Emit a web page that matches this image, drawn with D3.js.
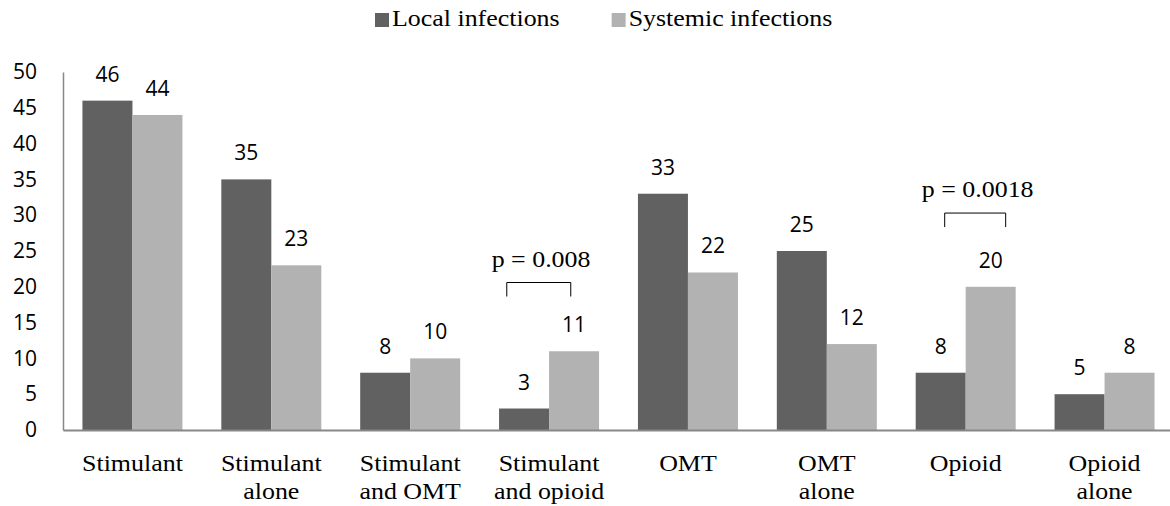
<!DOCTYPE html>
<html>
<head>
<meta charset="utf-8">
<script src="https://cdn.jsdelivr.net/npm/d3@7"></script>
<style>
  body { margin: 0; background: #fff; }
  svg { display: block; }
</style>
</head>
<body>
<div id="chart"></div>
<script>
// data
var categories = ["Stimulant", "Stimulant alone", "Stimulant and OMT", "Stimulant and opioid",
                  "OMT", "OMT alone", "Opioid", "Opioid alone"];
var categoryLines = [["Stimulant"], ["Stimulant", "alone"], ["Stimulant", "and OMT"], ["Stimulant", "and opioid"],
                     ["OMT"], ["OMT", "alone"], ["Opioid"], ["Opioid", "alone"]];
var localValues = [46, 35, 8, 3, 33, 25, 8, 5];
var systemicValues = [44, 23, 10, 11, 22, 12, 20, 8];
var seriesNames = ["Local infections", "Systemic infections"];
var yTicks = [0, 5, 10, 15, 20, 25, 30, 35, 40, 45, 50];

// significance brackets
var pCategories = ["Stimulant and opioid", "Opioid"];
var pLabels = ["p = 0.008", "p = 0.0018"];
var pLevels = [20.6, 30.3];

var width = 1170,
    height = 506;

var colors = ["#616161", "#b2b2b2"];
var axisColor = "#878787";
var sansFont = "'Open Sans', sans-serif";
var serifFont = "'Liberation Serif', 'Times New Roman', serif";
// the serif text in the original looks a bit stretched sideways
var stretch = "scale(1.08,1)";

var svg = d3.select("#chart")
  .append("svg")
    .attr("width", width)
    .attr("height", height);

// x: categories, then the two series inside each category
var x = d3.scaleBand()
  .domain(categories)
  .range([63, 1174])
  .paddingInner(0.28)
  .paddingOuter(0.14);

var xSub = d3.scaleBand()
  .domain(seriesNames)
  .range([0, x.bandwidth()]);

var y = d3.scaleLinear()
  .domain([0, 50])
  .range([430, 72]);

// y axis: only labels and a line, no ticks
var yAxis = svg.append("g")
  .attr("transform", "translate(63,0)")
  .call(d3.axisLeft(y).tickValues(yTicks).tickSize(0).tickPadding(26));
yAxis.select(".domain").attr("stroke", axisColor).attr("stroke-width", 1.5);
yAxis.selectAll("text")
  .style("font-family", sansFont)
  .style("font-size", "21px")
  .attr("fill", "#000");

// one row per category
var rows = categories.map(function(c, i) {
  return { cat: c, lines: categoryLines[i], values: [localValues[i], systemicValues[i]] };
});

var groups = svg.selectAll(".grp")
  .data(rows)
  .enter()
  .append("g")
    .attr("class", "grp")
    .attr("transform", function(d) { return "translate(" + x(d.cat) + ",0)"; });

var bars = groups.selectAll("rect")
  .data(function(d) {
    return d.values.map(function(v, j) { return { key: seriesNames[j], value: v, idx: j }; });
  })
  .enter();

bars.append("rect")
  .attr("x", function(d) { return xSub(d.key); })
  .attr("y", function(d) { return y(d.value); })
  .attr("width", xSub.bandwidth())
  .attr("height", function(d) { return y(0) - y(d.value); })
  .attr("fill", function(d) { return colors[d.idx]; });

bars.append("text")
  .attr("x", function(d) { return xSub(d.key) + xSub.bandwidth() / 2; })
  .attr("y", function(d) { return y(d.value) - 19; })
  .attr("text-anchor", "middle")
  .style("font-family", sansFont)
  .style("font-size", "21px")
  .text(function(d) { return d.value; });

// baseline (x axis line)
var xAxis = svg.append("g")
  .attr("transform", "translate(0," + y(0) + ")")
  .call(d3.axisBottom(x).tickSize(0).tickFormat(""));
xAxis.select(".domain").attr("stroke", axisColor).attr("stroke-width", 2);

// category labels, possibly two lines
groups.append("g")
  .attr("transform", "translate(" + x.bandwidth() / 2 + ",0) " + stretch)
  .append("text")
  .attr("text-anchor", "middle")
  .style("font-family", serifFont)
  .style("font-size", "24px")
  .selectAll("tspan")
  .data(function(d) { return d.lines; })
  .enter()
  .append("tspan")
    .attr("x", 0)
    .attr("y", function(d, i) { return 471 + i * 28; })
    .text(function(d) { return d; });

// p-value brackets
var bracketFrac = [[0.077, 0.717, 0.42], [0.29, 0.90, 0.62]];
pCategories.forEach(function(c, i) {
  var x0 = x(c) + x.bandwidth() * bracketFrac[i][0],
      x1 = x(c) + x.bandwidth() * bracketFrac[i][1],
      top = y(pLevels[i]);
  svg.append("path")
    .attr("d", "M" + x0 + "," + (top + 14) + "V" + top + "H" + x1 + "V" + (top + 14))
    .attr("fill", "none")
    .attr("stroke", "#000")
    .attr("stroke-width", 1);
  svg.append("g")
    .attr("transform", "translate(" + (x(c) + x.bandwidth() * bracketFrac[i][2]) + "," + (top - 16) + ") " + stretch)
    .append("text")
    .attr("text-anchor", "middle")
    .style("font-family", serifFont)
    .style("font-size", "24px")
    .text(pLabels[i]);
});

// legend
var legend = svg.append("g").attr("transform", "translate(375,0)");
var lx = 0;
seriesNames.forEach(function(name, i) {
  legend.append("rect")
    .attr("x", lx)
    .attr("y", 13)
    .attr("width", 14)
    .attr("height", 14)
    .attr("fill", colors[i]);
  var t = legend.append("g")
    .attr("transform", "translate(" + (lx + 17) + ",26) " + stretch)
    .append("text")
    .style("font-family", serifFont)
    .style("font-size", "24px")
    .text(name);
  lx += 17 + t.node().getComputedTextLength() * 1.08 + 52;
});
</script>
</body>
</html>
